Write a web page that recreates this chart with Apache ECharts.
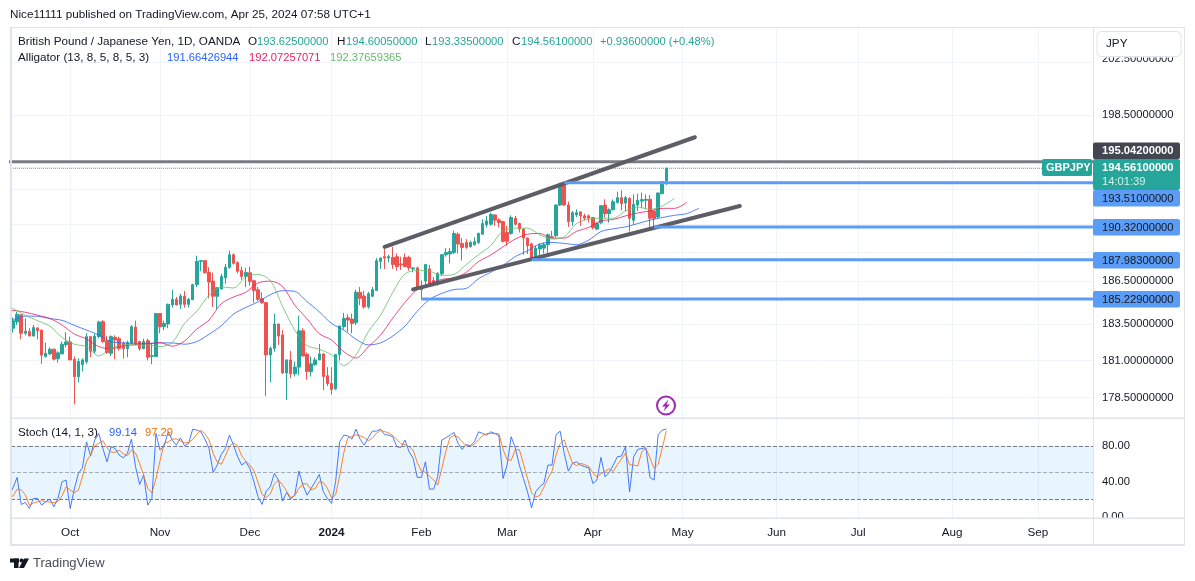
<!DOCTYPE html>
<html>
<head>
<meta charset="utf-8">
<title>GBPJPY</title>
<script src="https://cdn.jsdelivr.net/npm/echarts@6/dist/echarts.min.js"></script>
<style>
  html, body { margin: 0; padding: 0; background: #fff; }
  #chart { width: 1195px; height: 581px; }
</style>
</head>
<body>
<div id="chart"></div>
<script>
// one slot per trading day, empty slots on the right are the future part of the time axis
var barSlots = 265;
var monthLabels = ["Oct", "Nov", "Dec", "2024", "Feb", "Mar", "Apr", "May", "Jun", "Jul", "Aug", "Sep"];
var monthBars = [14, 36, 58, 78, 100, 121, 142, 164, 187, 207, 230, 251];

// open, close, low, high
var candles = [
  [183.21,183.73,182.91,183.95],[183.64,184.18,183.43,184.34],[184.13,182.86,182.45,184.18],[182.86,183.01,182.72,183.88],
  [182.99,182.67,182.67,183.21],[182.67,183.25,182.65,183.43],[183.23,183.03,182.45,183.27],[183.08,181.36,180.77,183.1],
  [181.27,181.49,181.2,182.22],[181.45,181.77,181.36,181.9],[181.77,181.09,181.0,181.81],[181.11,181.52,180.86,181.63],
  [181.45,182.11,181.45,182.29],[182.08,182.27,181.9,182.93],[182.27,181.04,181.04,182.63],[181.09,179.9,178.04,181.27],
  [179.9,180.93,179.52,181.15],[180.72,181.04,180.26,181.15],[180.91,182.63,180.77,182.86],[182.63,181.63,181.22,182.67],
  [181.63,182.67,181.49,182.81],[182.63,183.64,182.51,183.73],[183.66,182.29,182.22,183.77],[182.35,181.54,181.45,182.67],
  [181.49,182.63,181.31,182.72],[182.58,182.4,181.09,182.72],[182.49,181.83,181.67,182.63],[182.17,181.81,181.13,182.29],
  [181.81,182.22,181.22,182.35],[182.17,183.31,182.13,183.43],[183.29,182.17,182.04,183.73],[182.29,181.81,181.67,182.35],
  [181.81,182.29,181.77,182.49],[182.35,181.22,181.0,182.49],[181.29,181.34,180.75,182.17],[181.27,184.22,181.27,184.24],
  [184.22,183.31,182.86,184.24],[183.31,183.54,183.08,183.73],[183.5,184.86,183.21,184.91],[184.82,185.21,184.64,185.88],
  [185.21,184.82,184.78,185.37],[184.86,185.44,184.54,185.6],[185.42,184.86,184.64,185.79],[184.86,185.21,184.64,185.3],
  [185.19,186.23,185.14,186.3],[186.23,187.87,186.07,188.27],[187.87,187.92,187.17,187.97],[187.92,187.06,187.03,187.95],
  [187.08,186.41,185.28,187.45],[186.48,185.42,184.68,187.08],[185.42,186.02,184.54,186.07],[185.93,186.81,185.88,187.0],
  [186.71,187.45,186.3,187.69],[187.45,188.34,187.34,188.62],[188.34,187.73,187.64,188.43],[187.78,187.17,187.03,187.87],
  [187.22,186.81,186.58,187.5],[186.81,187.08,186.07,187.41],[187.06,186.46,186.16,187.5],[186.51,185.83,184.96,186.58],
  [185.88,185.21,185.09,186.07],[185.25,184.96,184.91,185.71],[184.98,181.38,178.59,185.03],[181.38,181.83,179.52,181.95],
  [181.83,183.5,181.6,184.22],[183.5,182.67,182.06,183.52],[182.74,180.15,180.1,183.08],[180.15,181.04,178.33,181.06],
  [181.04,180.1,179.81,181.65],[180.1,180.55,179.92,180.93],[180.55,183.03,179.99,184.07],[183.03,181.31,181.27,183.21],
  [181.43,180.26,179.7,181.54],[180.24,180.77,179.92,181.27],[180.72,181.04,180.64,181.22],[181.04,181.45,181.02,182.13],
  [181.45,179.92,178.99,181.49],[179.97,179.44,179.26,180.55],[179.44,179.03,178.7,180.55],[179.08,181.4,178.99,181.45],
  [181.4,183.36,181.0,183.38],[183.31,183.88,183.12,184.27],[183.93,183.77,182.95,184.18],[183.84,183.54,182.86,184.22],
  [183.59,185.7,183.43,185.88],[185.7,185.28,184.8,186.07],[185.44,184.68,184.56,185.8],[184.68,185.6,184.56,185.72],
  [185.42,185.88,185.37,186.07],[185.83,187.92,185.83,188.1],[187.87,188.1,187.34,188.15],[188.2,188.1,187.34,188.86],
  [188.1,188.2,187.8,188.34],[188.15,187.64,187.34,188.9],[188.2,187.5,187.22,188.43],[187.69,187.62,187.27,188.2],
  [188.15,187.5,187.45,188.43],[188.15,187.41,187.22,188.27],[187.34,187.41,187.1,187.45],[187.41,186.07,185.88,187.5],
  [185.88,186.07,185.19,186.53],[186.48,187.64,186.25,187.69],[187.34,186.25,186.18,187.62],[186.53,186.3,186.18,186.76],
  [186.25,187.03,186.18,187.1],[186.99,188.34,186.88,188.39],[188.34,188.5,188.2,188.81],[188.39,188.57,187.73,188.81],
  [188.5,189.85,188.39,190.04],[189.8,189.1,188.43,189.92],[189.14,188.86,187.92,189.52],[189.21,188.86,188.76,189.45],
  [188.9,189.21,188.86,189.33],[189.05,189.26,188.98,189.57],[189.21,189.85,189.1,189.92],[189.8,190.56,189.76,190.87],
  [190.47,190.75,190.28,191.11],[190.51,191.22,190.4,191.34],[191.18,190.8,190.4,191.22],[190.82,190.63,190.28,190.94],
  [190.7,189.29,189.21,190.75],[189.92,189.29,188.98,190.4],[189.85,190.99,189.76,191.15],[190.94,190.51,190.4,191.11],
  [190.56,190.16,189.92,190.63],[190.16,189.52,188.34,190.23],[189.52,188.98,188.39,189.57],[189.1,188.1,187.92,189.21],
  [188.03,188.81,187.92,188.98],[188.74,189.02,188.15,189.14],[188.81,189.05,188.43,189.21],[189.05,189.76,188.43,189.85],
  [189.61,189.57,189.52,190.04],[189.69,191.89,189.57,191.94],[191.89,193.38,191.82,193.5],[193.33,191.89,191.82,193.5],
  [191.89,190.7,190.32,192.13],[190.7,191.34,190.4,191.46],[191.18,191.34,191.03,191.58],[191.39,191.11,190.4,191.46],
  [191.11,190.94,190.8,191.27],[191.11,190.94,190.63,191.22],[190.99,190.28,190.14,191.03],[190.16,190.56,190.09,190.63],
  [190.61,191.84,190.51,191.89],[191.89,191.27,190.99,192.3],[191.27,191.55,190.63,191.65],[191.55,192.13,191.5,192.3],
  [192.08,192.42,191.99,192.85],[192.42,191.99,191.5,192.95],[192.03,192.42,191.46,192.54],[192.37,190.94,189.99,192.47],
  [190.8,191.94,190.47,192.66],[191.89,192.23,191.46,192.71],[192.18,192.28,191.65,192.78],[192.23,192.3,191.58,192.66],
  [192.3,190.94,190.16,192.61],[191.46,190.94,190.16,191.5],[191.03,192.76,190.94,192.8],[192.71,193.57,192.66,193.62],
  [193.625,194.561,193.335,194.6005]
];

// alligator lines, read every third bar
var alligatorStep = 3;
var jaw = [183.82,184.05,184.03,183.88,183.75,183.41,183.08,182.74,182.29,182.2,182.17,182.17,182.2,182.2,182.11,182.29,182.79,183.38,184.18,184.64,185.03,185.53,185.81,185.76,185.05,184.34,183.54,183.08,182.45,182.06,182.2,182.67,183.36,184.38,185.2,185.62,185.89,185.97,186.65,187.1,187.59,188.2,188.62,189.1,189.21,189.14,189.05,189.38,189.99,190.18,190.32,190.56,190.8,190.99,191.15,191.27,191.66];
var teeth = [184.43,184.31,184.11,183.88,183.43,182.81,182.47,181.95,181.79,182.0,182.08,182.13,182.22,181.97,182.33,183.15,183.77,184.91,185.37,185.7,186.35,186.48,186.11,184.8,183.86,182.83,182.4,181.6,181.17,181.93,182.74,183.9,185.0,185.9,186.3,186.6,186.7,187.1,187.85,188.32,188.9,189.45,189.8,189.85,189.52,189.52,190.0,190.28,190.75,190.85,191.11,191.32,191.46,191.65,191.65,192.07];
var lips = [184.57,184.09,183.73,183.36,182.58,182.11,181.95,181.31,181.81,182.06,182.06,182.06,181.95,182.22,183.54,184.38,185.49,186.07,186.0,186.77,186.95,186.53,184.73,183.08,182.02,181.77,181.38,180.66,181.38,182.97,184.1,185.69,186.99,187.22,187.17,186.88,186.95,187.64,188.34,188.98,190.04,190.23,190.23,189.76,189.45,189.61,190.56,190.87,190.94,190.94,191.46,191.75,191.58,191.82,192.37];
// values on the bar just left of the first full candle
var jawLead = 183.85, teethLead = 184.43, lipsLead = 184.68;

var stochK = [33,44.7,14.3,16.5,9.8,21,21,13.5,17.3,20.3,11.6,21,39.8,41.7,9.8,31.5,49.2,55.6,84.8,69,86.7,94.2,77.3,62.3,79.2,77.3,69.8,66.8,71.7,87.8,56.7,36.8,47.3,13.5,21,94.2,75.5,80.3,96,86.7,81,89.3,80.3,83,99,98,96,87.8,77.3,50.3,58.6,70.6,77.3,92.3,81,68,58.6,62.3,54.8,39.8,22.9,14.3,29.3,34.2,49.2,41.7,18,27.8,20.3,24.8,51.8,36,24.8,32.3,39.8,48,28.5,21,15.4,39.8,84.8,92.3,91.6,87.8,99,87.8,81,89.3,96.8,96.8,99,93,92.3,90.5,79.2,78.5,86.7,73.6,66,44.7,44.7,62.3,31.5,31.5,45.4,86.7,89.3,92.3,95.3,83,76.2,81.8,80.3,84.8,96,94.2,92.3,96,94.2,91.6,43.5,58.6,90.5,78,58.6,43.5,28.5,10.5,28.5,34.2,37.9,58.6,58.6,93,96.8,71.7,51.8,60.4,62.3,58.6,56.7,55.6,37.9,41.7,67.2,45.4,50.3,58.6,68,68.7,79.2,28.5,68,76.2,77.3,78,44.7,41.7,93,98,99.14];
var stochD = [23.6,31.5,30.7,25.2,13.5,15.8,17.3,18.5,17.3,17,16.4,17.6,24.1,34.2,30.4,27.7,30.2,45.4,63.2,69.8,80.2,83,86.1,78,73,73,75.4,71.3,69.3,75.4,72.2,60.4,46.9,32.5,27.3,43,63.6,83,84.6,87.7,88,85.7,83.5,84.2,87.3,93.3,97.7,94,87,71.8,62,59.5,68.8,80,83.5,80.4,69,63,58.6,52.3,39.2,25.7,22,26,37.6,41.7,36.3,29.2,22,24.3,32.3,37.5,37.5,31,32,40,39,32.5,21.6,25,46.7,72.3,89.5,90.6,92.8,91.5,89.6,86,89,94.3,97.5,96.3,94.8,92,87.3,82.7,81.5,79.3,75.4,61.5,51.8,50.6,46,42,36,54.5,74,89.5,92,90.2,84.8,80.3,79.4,82.3,87,91.7,94,94,94,94,76.5,64.6,64,75.7,76,60,43.6,27.5,22.5,24.4,33.5,43.6,51.7,70,82.8,87,73.4,61,58,60.4,59.2,57,50,45,48.9,51.4,54.6,51.4,59,65.1,72,59,58.6,57.6,73.8,77.2,66.7,55,59.5,77.6,97.29];
var stochKLead = 23.6, stochDLead = 23;

var priceTicks = [202.5, 198.5, 195, 193, 190.5, 188.5, 186.5, 183.5, 181, 178.5];
var priceLabels = [198.5, 186.5, 183.5, 181, 178.5];
var stochTicks = [0, 40, 80];

// hand drawn trend lines [bar, price]
var upperTrend = [[91, 188.9], [167, 196.84]];
var lowerTrend = [[98, 185.9], [178, 191.82]];
var resistanceLevel = 195.042;
var lastPrice = 194.561;
// horizontal rays: start bar, price
var rays = [[135, 193.51], [157, 190.32], [127, 187.983], [100, 185.229]];

var fontName = "'Liberation Sans', Arial, sans-serif";
var colUp = "#26a69a", colDown = "#ef5350", colJaw = "#2962ff", colTeeth = "#e91e63", colLips = "#66bb6a";
var colRay = "#5b9cf6", colBorder = "#e0e3eb", colGrid = "#f0f3fa", colText = "#131722";
var sizeNum = 11.2, sizeTxt = 11.7;

function txt(x, y, text, fill, size, weight, z) {
  return {
    type: "text", x: x, y: y, z: z || 20, silent: true,
    style: {
      text: text, fill: fill || colText, font: (weight || "normal") + " " + (size || sizeTxt) + "px " + fontName,
      textVerticalAlign: "middle"
    }
  };
}

function box(x, y, w, h, fill, r, stroke) {
  return {
    type: "rect", z: 15, silent: true,
    shape: { x: x, y: y, width: w, height: h, r: r || 0 },
    style: { fill: fill, stroke: stroke || null, lineWidth: stroke ? 1 : 0 }
  };
}

function drawn(points, color, width, dash, cap) {
  return {
    type: "line", xAxisIndex: 0, yAxisIndex: 0, data: points, symbol: "none", silent: true, z: 5,
    lineStyle: { color: color, width: width, type: dash || "solid", cap: cap || "butt" }
  };
}

function alligatorLine(values, lead, color) {
  var points = [[-1, lead]];
  values.forEach(function (v, n) { points.push([n * alligatorStep, v]); });
  return {
    type: "line", xAxisIndex: 0, yAxisIndex: 0, symbol: "none", silent: true, smooth: 0.3, z: 4,
    data: points,
    lineStyle: { color: color, width: 1, opacity: 0.8 }
  };
}

function stochPoints(values, lead) {
  var points = [[-1, lead]];
  values.forEach(function (v, n) { points.push([n, v]); });
  return points;
}

var slots = [];
for (var i = 0; i < barSlots; i++) slots.push(String(i));

function isMonthBar(index) { return monthBars.indexOf(index) >= 0; }

var chart = echarts.init(document.getElementById("chart"));

var graphics = [
  // panel frame
  box(1094, 519, 90, 26, "#fff"),
  box(10, 27, 2, 518, colBorder),
  box(10, 27, 1175, 1, colBorder),
  box(1184, 27, 1, 518, colBorder),
  box(10, 544, 1175, 2, colBorder),
  box(10, 417.5, 1175, 1.5, colBorder),
  box(10, 517.5, 1175, 1.5, colBorder),
  box(1093, 27, 1, 518, colBorder),
  // top axis label, half hidden under the currency button
  txt(1102, 59, "202.50000000", colText, sizeNum, "normal", 14),
  box(1095, 30, 88, 27.5, "#fff"),
  // currency button
  box(1097, 31.5, 84, 25, "#fff", 4, colBorder),
  txt(1106, 44, "JPY", colText, sizeTxt),
  // header and footer
  txt(10, 15, "Nice11111 published on TradingView.com, Apr 25, 2024 07:58 UTC+1", colText, sizeTxt),
  txt(33, 563, "TradingView", "#4a4d57", 13),
  // legend
  txt(18, 42, "British Pound / Japanese Yen, 1D, OANDA", colText, sizeTxt),
  txt(248, 42, "O", colText, sizeTxt), txt(257, 42, "193.62500000", colUp, sizeNum),
  txt(337, 42, "H", colText, sizeTxt), txt(346, 42, "194.60050000", colUp, sizeNum),
  txt(425, 42, "L", colText, sizeTxt), txt(432, 42, "193.33500000", colUp, sizeNum),
  txt(512, 42, "C", colText, sizeTxt), txt(521, 42, "194.56100000", colUp, sizeNum),
  txt(600, 42, "+0.93600000 (+0.48%)", colUp, sizeNum),
  txt(18, 58, "Alligator (13, 8, 5, 8, 5, 3)", colText, sizeTxt),
  txt(167, 58, "191.66426944", colJaw, sizeNum),
  txt(249, 58, "192.07257071", colTeeth, sizeNum),
  txt(330, 58, "192.37659365", colLips, sizeNum),
  txt(18, 433, "Stoch (14, 1, 3)", colText, sizeTxt),
  txt(109, 433, "99.14", colJaw, sizeNum),
  txt(145, 433, "97.29", "#ff6d00", sizeNum),
  // price tags
  box(1042, 159, 50, 17, colUp, 2),
  txt(1046, 168, "GBPJPY", "#fff", 11, "bold"),
  box(1093, 142.5, 87, 16.5, "#434651", 2),
  txt(1102, 151, "195.04200000", "#fff", sizeNum, "bold"),
  box(1093, 159, 87, 31, colUp, 2),
  txt(1102, 168, "194.56100000", "#fff", sizeNum, "bold"),
  txt(1102, 182, "14:01:39", "#d4f0ed", sizeNum),
  box(1093, 190, 87, 16.5, colRay, 2),
  txt(1102, 198.5, "193.51000000", colText, sizeNum),
  box(1093, 219, 87, 16.5, colRay, 2),
  txt(1102, 227.5, "190.32000000", colText, sizeNum),
  box(1093, 252, 87, 16.5, colRay, 2),
  txt(1102, 260.5, "187.98300000", colText, sizeNum),
  box(1093, 291, 87, 16.5, colRay, 2),
  txt(1102, 299.5, "185.22900000", colText, sizeNum),
  // lightning marker
  {
    type: "circle", z: 16, silent: true, shape: { cx: 666, cy: 405.5, r: 9 },
    style: { fill: "#fff", stroke: "#9c27b0", lineWidth: 2 }
  },
  {
    type: "polygon", z: 17, silent: true,
    shape: { points: [[668.5, 399.5], [662, 406.5], [665.5, 406.5], [663.5, 411.5], [670, 404.5], [666.5, 404.5]] },
    style: { fill: "#9c27b0" }
  },
  // logo
  box(10, 558.5, 9, 4, "#131722"),
  box(14, 558.5, 4.5, 9.5, "#131722"),
  { type: "circle", z: 16, silent: true, shape: { cx: 21.5, cy: 560.5, r: 2 }, style: { fill: "#131722" } },
  {
    type: "polygon", z: 16, silent: true,
    shape: { points: [[19, 568], [24, 558.5], [29, 558.5], [24, 568]] },
    style: { fill: "#131722" }
  }
];

var series = [
  {
    type: "candlestick", xAxisIndex: 0, yAxisIndex: 0, data: candles, barWidth: 3, silent: true, z: 3,
    itemStyle: { color: colUp, color0: colDown, borderColor: colUp, borderColor0: colDown, borderWidth: 1 }
  },
  alligatorLine(jaw, jawLead, colJaw),
  alligatorLine(teeth, teethLead, colTeeth),
  alligatorLine(lips, lipsLead, colLips),
  drawn([[-1, resistanceLevel], [barSlots, resistanceLevel]], "#787b86", 3),
  drawn([[-1, lastPrice], [barSlots, lastPrice]], colUp, 1, "dotted"),
  drawn(upperTrend, "#5d5d66", 4, "solid", "round"),
  drawn(lowerTrend, "#5d5d66", 4, "solid", "round"),
  {
    type: "line", xAxisIndex: 1, yAxisIndex: 1, data: stochPoints(stochK, stochKLead), symbol: "none", silent: true, z: 4,
    lineStyle: { color: "#2962ff", width: 1, opacity: 0.85 },
    markArea: {
      silent: true, itemStyle: { color: "rgba(33,150,243,0.1)" },
      data: [[{ yAxis: 20 }, { yAxis: 80 }]]
    },
    markLine: {
      silent: true, symbol: "none", label: { show: false },
      data: [
        { yAxis: 80, lineStyle: { color: "#787b86", type: "dashed", width: 1 } },
        { yAxis: 50, lineStyle: { color: "rgba(120,123,134,0.6)", type: "dashed", width: 1 } },
        { yAxis: 20, lineStyle: { color: "#787b86", type: "dashed", width: 1 } }
      ]
    }
  },
  {
    type: "line", xAxisIndex: 1, yAxisIndex: 1, data: stochPoints(stochD, stochDLead), symbol: "none", silent: true, z: 4,
    lineStyle: { color: "#ff6d00", width: 1, opacity: 0.85 }
  }
];

rays.forEach(function (r) {
  series.push(drawn([[r[0], r[1]], [barSlots, r[1]]], colRay, 3));
});

function timeAxis(gridIndex, showLabels) {
  return {
    type: "category", gridIndex: gridIndex, data: slots, boundaryGap: true,
    axisLine: { show: false },
    axisTick: { show: false, alignWithLabel: true },
    axisLabel: {
      show: showLabels, interval: function (index) { return isMonthBar(index); }, margin: 9,
      color: colText, fontFamily: fontName, fontSize: sizeTxt,
      hideOverlap: false, showMinLabel: true, showMaxLabel: true,
      formatter: function (value) {
        var label = monthLabels[monthBars.indexOf(Number(value))];
        return label === "2024" ? "{b|2024}" : label;
      },
      rich: { b: { fontWeight: "bold", color: colText, fontFamily: fontName, fontSize: sizeTxt } }
    },
    splitLine: {
      show: true, alignWithLabel: true, interval: function (index) { return isMonthBar(index); },
      lineStyle: { color: colGrid, width: 1 }
    }
  };
}

var option = {
  animation: false,
  backgroundColor: "#fff",
  grid: [
    { left: 11, top: 28, width: 1082, height: 390 },
    { left: 11, top: 418, width: 1082, height: 100 }
  ],
  xAxis: [timeAxis(0, false), timeAxis(1, true)],
  yAxis: [
    {
      type: "log", logBase: 10, gridIndex: 0, position: "right", min: 177.13, max: 205.09,
      axisLine: { show: false },
      axisTick: { show: false, customValues: priceTicks },
      axisLabel: {
        customValues: priceTicks, margin: 9, color: colText, fontFamily: fontName, fontSize: sizeNum,
        showMinLabel: true, showMaxLabel: true,
        formatter: function (v) {
          var hit = priceLabels.some(function (p) { return Math.abs(p - v) < 0.001; });
          return hit ? Number(v).toFixed(8) : "";
        }
      },
      splitLine: { show: true, lineStyle: { color: colGrid, width: 1 } }
    },
    {
      type: "value", gridIndex: 1, position: "right", min: -1, max: 111.6,
      axisLine: { show: false },
      axisTick: { show: false, customValues: stochTicks },
      axisLabel: {
        customValues: stochTicks, margin: 9, color: colText, fontFamily: fontName, fontSize: sizeNum,
        formatter: function (v) { return Number(v).toFixed(2); }
      },
      splitLine: { show: false }
    }
  ],
  graphic: graphics,
  series: series
};

chart.setOption(option);
</script>
</body>
</html>
